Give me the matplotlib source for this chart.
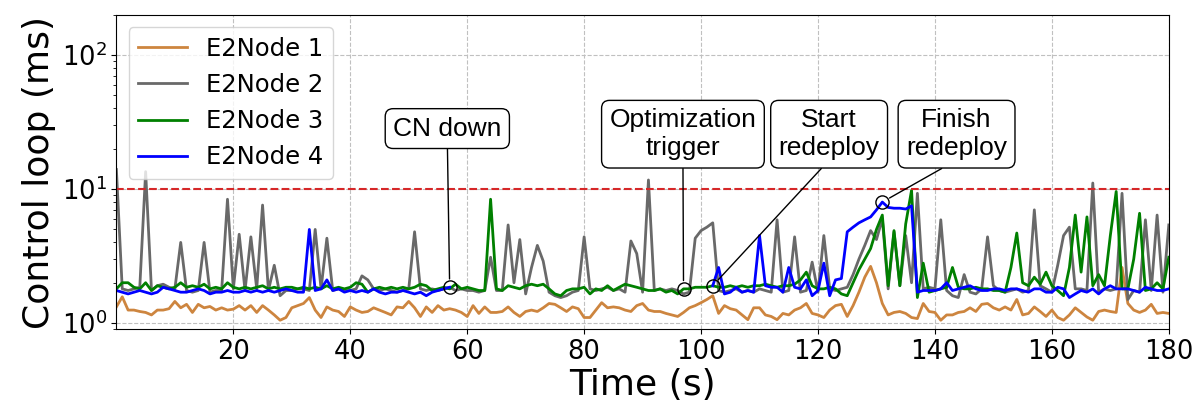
import numpy as np
import matplotlib
matplotlib.use("Agg")
import matplotlib.pyplot as plt

nan = np.nan

# control loop latency (ms) per second, t = 0..180
time_s = np.arange(181)

e2node1 = [
    1.32, 1.57, 1.25, 1.25, 1.22, 1.2, 1.15, 1.25, 1.25, 1.28,
    1.45, 1.3, 1.38, 1.2, 1.38, 1.3, 1.33, 1.25, 1.3, 1.25,
    1.27, 1.35, 1.25, 1.35, 1.2, 1.35, 1.25, 1.15, 1.05, 1.1,
    1.3, 1.35, 1.4, 1.55, 1.25, 1.1, 1.32, 1.25, 1.22, 1.12,
    1.32, 1.25, 1.2, 1.22, 1.3, 1.25, 1.2, 1.15, 1.32, 1.3,
    1.45, 1.3, 1.12, 1.32, 1.2, 1.35, 1.25, 1.28, 1.25, 1.2,
    1.12, 1.35, 1.18, 1.32, 1.2, 1.2, 1.22, 1.32, 1.2, 1.12,
    1.22, 1.25, 1.22, 1.3, 1.4, 1.38, 1.3, 1.22, 1.32, 1.28,
    1.1, 1.1, 1.25, 1.42, 1.3, 1.32, 1.3, 1.25, 1.22, 1.35,
    1.4, 1.25, 1.22, 1.22, 1.18, 1.15, 1.12, 1.2, 1.3, 1.35,
    1.42, 1.5, 1.6, 1.18, 1.35, 1.28, 1.25, 1.15, 1.06, 1.3,
    1.3, 1.15, 1.12, 1.06, 1.18, 1.15, 1.25, 1.3, 1.4, 1.18,
    1.15, 1.1, 1.25, 1.35, 1.38, 1.12, 1.35, 1.7, 2.2, 2.65,
    2.0, 1.4, 1.15, 1.2, 1.22, 1.18, 1.1, 1.08, 1.4, 1.22,
    1.2, 1.05, 1.15, 1.15, 1.2, 1.22, 1.3, 1.22, 1.38, 1.4,
    1.3, 1.25, 1.32, 1.25, 1.5, 1.15, 1.18, 1.32, 1.22, 1.12,
    1.25, 1.1, 1.05, 1.15, 1.3, 1.2, 1.11, 1.05, 1.22, 1.25,
    1.22, 1.2, 2.6, 1.4, 1.25, 1.2, 1.25, 1.38, 1.18, 1.2, 1.18,
]

e2node2 = [
    14.0, 1.8, 1.75, 1.8, 1.85, 13.5, 1.75, 1.9, 1.95, 1.85,
    1.8, 4.0, 1.75, 1.7, 1.75, 4.0, 1.7, 1.75, 1.75, 8.4,
    1.8, 4.6, 1.75, 4.4, 1.8, 7.6, 1.75, 2.7, 1.6, 1.75,
    1.75, 1.8, 1.8, 1.75, 5.0, 1.8, 4.3, 1.75, 1.8, 1.75,
    1.75, 1.8, 2.25, 2.1, 1.8, 1.75, 1.8, 1.75, 1.7, 1.75,
    1.8, 4.8, 1.8, 1.75, 1.8, 1.75, 1.8, 1.85, 1.75, 1.8,
    1.75, 1.75, 1.7, 1.75, 3.1, 1.75, 1.75, 5.4, 2.0, 4.2,
    1.65, 2.6, 3.8, 2.9, 1.7, 1.6, 1.55, 1.6, 1.7, 1.75,
    4.4, 1.8, 1.75, 1.8, 1.85, 1.75, 1.8, 1.7, 4.1, 3.3,
    1.7, 11.7, 1.75, 1.8, 1.75, 1.8, 1.75, 1.65, 1.7, 4.3,
    4.9, 5.2, 5.6, 1.75, 1.7, 1.75, 1.8, 1.7, 1.75, 1.7,
    1.8, 1.75, 1.7, 5.9, 1.7, 1.75, 4.4, 1.7, 1.75, 2.85,
    1.7, 4.5, 1.8, 1.75, 1.8, 1.85, 2.3, 3.0, 3.8, 4.9,
    4.2, 6.0, 1.8, 4.8, 1.9, 4.5, 2.0, 9.3, 1.8, 1.85,
    1.8, 5.9, 1.75, 1.6, 1.55, 2.3, 1.7, 1.65, 1.8, 4.4,
    1.9, 1.75, 1.7, 1.75, 1.8, 1.7, 1.75, 7.0, 1.9, 1.8,
    1.7, 2.7, 4.5, 5.2, 1.8, 1.8, 1.75, 11.1, 1.7, 1.8,
    1.75, 1.8, 9.3, 1.5, 1.75, 1.7, 5.9, 1.75, 6.4, 1.7, 5.4,
]

e2node3 = [
    1.8, 2.0, 2.0, 1.85, 1.8, 2.0, 1.75, 1.9, 1.85, 1.8,
    1.85, 2.0, 1.85, 1.9, 1.85, 1.95, 1.8, 1.85, 1.8, 2.0,
    1.85, 1.8, 1.85, 1.8, 1.85, 1.9, 1.8, 1.85, 1.8, 1.85,
    1.85, 1.8, 1.85, 1.8, 1.85, 1.8, 1.9, 1.8, 1.85, 1.8,
    1.85, 2.0, 1.95, 1.7, 1.8, 1.85, 1.8, 1.85, 1.8, 1.85,
    1.8, 1.85, 1.95, 1.9, 1.75, 1.8, 1.85, 1.8, 1.95, 1.8,
    1.85, 1.8, 1.75, 1.75, 8.4, 1.8, 1.75, 1.9, 1.85, 1.8,
    1.9, 1.95, 1.9, 1.95, 1.8, 1.65, 1.6, 1.75, 1.8, 1.8,
    1.85, 1.65, 1.8, 1.75, 1.9, 1.75, 1.85, 1.95, 1.9, 1.85,
    1.8, 1.75, 1.75, 1.8, 1.7, 1.75, 1.65, 1.8, 1.8, 1.85,
    1.85, 1.85, 1.9, 1.85, 1.85, 1.9, 1.85, 1.9, 1.85, 1.9,
    1.9, 1.95, 1.9, 1.85, 1.9, 1.9, 1.95, 2.1, 2.4, 1.9,
    1.8, 1.8, 1.85, 1.8, 1.65, 1.6, 2.0, 2.5, 3.0, 3.6,
    5.0, 6.4, 1.9, 4.9, 1.9, 5.5, 9.8, 1.55, 2.8, 1.7,
    1.75, 1.8, 1.85, 2.6, 1.85, 1.8, 1.8, 1.85, 1.8, 1.8,
    1.75, 1.75, 1.7, 2.6, 4.7, 2.0, 1.9, 2.2, 1.95, 2.4,
    1.9, 1.75, 1.6, 2.6, 6.4, 2.4, 6.2, 1.9, 2.3, 1.9,
    4.5, 9.6, 1.8, 1.8, 3.0, 6.6, 1.75, 1.8, 2.0, 1.8, 3.1,
]

# E2Node 4 has no samples between CN down and the restart
e2node4 = [
    1.75, 1.7, 1.65, 1.7, 1.75, 1.7, 1.65, 1.7, 1.85, 1.8,
    1.75, 1.7, 1.7, 1.75, 1.8, 1.75, 1.65, 1.7, 1.7, 1.75,
    1.7, 1.7, 1.75, 1.7, 1.75, 1.7, 1.75, 1.7, 1.75, 1.8,
    1.75, 1.7, 1.7, 5.0, 1.75, 1.8, 2.1, 1.75, 1.8, 1.7,
    1.75, 1.7, 1.75, 1.7, 1.8, 1.7, 1.65, 1.7, 1.7, 1.75,
    1.7, 1.65, 1.7, 1.6, 1.7, 1.75, 1.8, 1.85, nan, nan,
    nan, nan, nan, nan, nan, nan, nan, nan, nan, nan,
    nan, nan, nan, nan, nan, nan, nan, nan, nan, nan,
    nan, nan, nan, nan, nan, nan, nan, nan, nan, nan,
    nan, nan, nan, nan, nan, nan, nan, nan, nan, nan,
    nan, nan, 1.9, 2.6, 1.65, 1.7, 1.85, 1.7, 1.75, 1.7,
    4.5, 1.9, 1.85, 1.85, 1.7, 2.6, 1.85, 1.8, 2.1, 1.6,
    1.75, 2.8, 1.6, 2.1, 2.15, 4.8, 5.2, 5.6, 5.9, 6.2,
    7.0, 8.0, 7.3, 7.2, 7.2, 7.1, 7.5, 1.7, 1.75, 1.75,
    1.75, 1.8, 2.0, 1.75, 1.8, 1.85, 1.9, 1.8, 1.75, 1.75,
    1.8, 1.8, 1.75, 1.8, 1.8, 1.75, 1.7, 1.8, 1.8, 1.7,
    1.7, 1.85, 1.8, 1.55, 1.65, 1.75, 1.7, 1.8, 1.65, 1.8,
    1.9, 1.8, 1.8, 1.8, 1.75, 1.7, 1.85, 1.8, 1.75, 1.75, 1.8,
]

labels = ['E2Node 1', 'E2Node 2', 'E2Node 3', 'E2Node 4']
colors = ['peru', 'dimgray', 'green', 'blue']

# events: label, time, series index the marker sits on, text position
event_labels = ['CN down', 'Optimization\ntrigger', 'Start\nredeploy', 'Finish\nredeploy']
event_times = [57, 97, 102, 131]
event_series = [3, 2, 3, 3]
event_text_x = [56.6, 96.9, 121.9, 143.7]
event_text_y = [28.3, 25.7, 25.7, 25.7]

threshold_ms = 10

fig = plt.figure(figsize=(12, 4.12), dpi=100)
ax = fig.add_axes([0.097, 0.201, 0.877, 0.763])

series = [e2node1, e2node2, e2node3, e2node4]
for vals, lab, col in zip(series, labels, colors):
    ax.plot(time_s, vals, color=col, lw=2, label=lab)

ax.axhline(threshold_ms, color='tab:red', ls='--', lw=1.5)

for lab, t, si, tx, ty in zip(event_labels, event_times, event_series, event_text_x, event_text_y):
    yv = series[si][t]
    ax.plot(t, yv, 'o', mfc='none', mec='black', ms=9.5, mew=1)
    ax.annotate(lab, xy=(t, yv), xytext=(tx, ty), ha='center', va='center',
                fontsize=19, family='Liberation Sans', multialignment='center',
                bbox=dict(boxstyle='round,pad=0.3', fc='white', ec='black', lw=1),
                arrowprops=dict(arrowstyle='-', color='black', lw=1, relpos=(0.5, 0),
                                shrinkA=0, shrinkB=6))

ax.set_yscale('log')
ax.set_ylim(0.9, 200)
ax.set_xlim(0, 180)
ax.set_xticks(range(20, 181, 20))
ax.grid(True, ls='--', color='#c0c0c0', lw=0.8)
ax.tick_params(axis='both', labelsize=18.5)
ax.set_xlabel('Time (s)', fontsize=26, labelpad=2)
ax.set_ylabel('Control loop (ms)', fontsize=26, labelpad=4)
ax.legend(loc='upper left', fontsize=17.5)

plt.savefig('out.png', dpi=100)
